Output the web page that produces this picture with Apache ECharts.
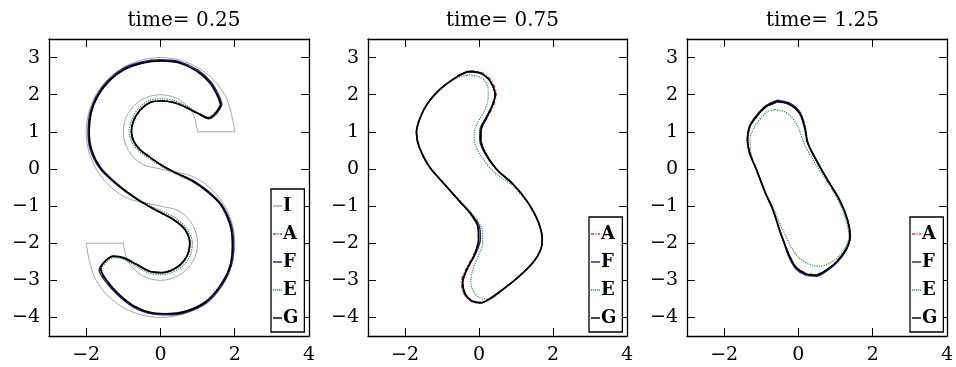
<!DOCTYPE html>
<html>
<head>
<meta charset="utf-8">
<script src="https://cdn.jsdelivr.net/npm/echarts@6/dist/echarts.min.js"></script>
<style>
html, body { margin: 0; padding: 0; background: #fff; }
#chart { width: 956px; height: 367px; }
</style>
</head>
<body>
<div id="chart"></div>
<script>
// panel titles and ticks
const titles = ['time= 0.25', 'time= 0.75', 'time= 1.25'];
const xTicks = [-2, 0, 2, 4];
const yTicks = [-4, -3, -2, -1, 0, 1, 2, 3];

// initial S shape (I), in pieces: caps are straight, arcs are smooth
const iCapTop = [[1, 1], [2, 1]];
const iArcUpper = [[2, 1], [1.732, 2], [1, 2.732], [0, 3], [-1, 2.732], [-1.732, 2], [-2, 1], [-1.732, 0], [-1, -0.732], [0, -1],
	[0.5, -1.134], [0.866, -1.5], [1, -2], [0.866, -2.5], [0.5, -2.866], [0, -3], [-0.5, -2.866], [-0.866, -2.5], [-1, -2]];
const iCapBottom = [[-1, -2], [-2, -2]];
const iArcLower = [[-2, -2], [-1.732, -3], [-1, -3.732], [0, -4], [1, -3.732], [1.732, -3], [2, -2], [1.732, -1], [1, -0.268], [0, 0],
	[-0.5, 0.134], [-0.866, 0.5], [-1, 1], [-0.866, 1.5], [-0.5, 1.866], [0, 2], [0.5, 1.866], [0.866, 1.5], [1, 1]];

// time = 0.25
const g1 = [[1.63,1.73],[1.54,1.97],[1.34,2.31],[0.99,2.63],[0.5,2.86],[0.0,2.91],[-0.5,2.85],[-0.99,2.67],[-1.4,2.35],[-1.7,1.94],[-1.87,1.5],[-1.92,1.0],[-1.86,0.53],[-1.62,0.04],[-1.2,-0.38],[-0.65,-0.8],[-0.1,-1.12],[0.35,-1.36],[0.66,-1.63],[0.79,-1.99],[0.71,-2.35],[0.44,-2.65],[0.04,-2.79],[-0.3,-2.75],[-0.64,-2.57],[-1.0,-2.39],[-1.26,-2.35],[-1.47,-2.47],[-1.61,-2.69],[-1.48,-2.96],[-1.16,-3.34],[-0.72,-3.69],[-0.2,-3.88],[0.2,-3.9],[0.7,-3.83],[1.23,-3.57],[1.62,-3.13],[1.88,-2.6],[1.94,-2.05],[1.88,-1.52],[1.63,-0.97],[1.24,-0.59],[0.85,-0.32],[0.4,-0.1],[0.0,0.12],[-0.3,0.33],[-0.55,0.52],[-0.72,0.75],[-0.78,1.0],[-0.73,1.28],[-0.55,1.58],[-0.28,1.79],[0.05,1.83],[0.35,1.79],[0.62,1.69],[0.9,1.55],[1.1,1.45],[1.29,1.37],[1.45,1.47],[1.57,1.62],[1.63,1.73]];
const e1 = [[1.6,1.74],[1.52,1.97],[1.33,2.3],[0.98,2.62],[0.5,2.85],[0.0,2.9],[-0.5,2.84],[-0.98,2.66],[-1.39,2.34],[-1.69,1.94],[-1.86,1.5],[-1.91,1.0],[-1.85,0.53],[-1.61,0.05],[-1.2,-0.36],[-0.65,-0.77],[-0.08,-1.08],[0.4,-1.32],[0.72,-1.62],[0.86,-1.99],[0.78,-2.38],[0.48,-2.7],[0.04,-2.85],[-0.32,-2.8],[-0.66,-2.62],[-1.0,-2.43],[-1.26,-2.39],[-1.45,-2.5],[-1.58,-2.71],[-1.46,-2.97],[-1.15,-3.33],[-0.72,-3.68],[-0.2,-3.87],[0.2,-3.89],[0.7,-3.82],[1.22,-3.56],[1.61,-3.12],[1.87,-2.6],[1.93,-2.05],[1.87,-1.52],[1.62,-0.98],[1.23,-0.6],[0.85,-0.34],[0.4,-0.13],[0.0,0.08],[-0.33,0.3],[-0.6,0.5],[-0.78,0.75],[-0.84,1.0],[-0.78,1.3],[-0.6,1.62],[-0.3,1.85],[0.05,1.89],[0.38,1.84],[0.66,1.72],[0.93,1.57],[1.12,1.46],[1.3,1.4],[1.45,1.5],[1.55,1.63],[1.6,1.74]];
const f1 = [[1.66,1.74],[1.57,1.99],[1.36,2.34],[1.01,2.66],[0.51,2.89],[0.0,2.94],[-0.51,2.88],[-1.01,2.7],[-1.43,2.37],[-1.73,1.95],[-1.9,1.5],[-1.95,1.0],[-1.89,0.52],[-1.64,0.02],[-1.21,-0.4],[-0.65,-0.81],[-0.1,-1.13],[0.35,-1.37],[0.66,-1.64],[0.79,-2.0],[0.71,-2.36],[0.44,-2.66],[0.04,-2.8],[-0.3,-2.76],[-0.64,-2.58],[-1.0,-2.4],[-1.28,-2.36],[-1.5,-2.49],[-1.65,-2.72],[-1.51,-2.99],[-1.18,-3.37],[-0.73,-3.72],[-0.2,-3.91],[0.2,-3.93],[0.71,-3.86],[1.25,-3.6],[1.65,-3.15],[1.91,-2.6],[1.97,-2.05],[1.91,-1.51],[1.65,-0.96],[1.25,-0.57],[0.86,-0.3],[0.4,-0.1],[0.0,0.12],[-0.3,0.33],[-0.55,0.52],[-0.72,0.75],[-0.78,1.0],[-0.73,1.28],[-0.55,1.58],[-0.28,1.79],[0.05,1.83],[0.35,1.79],[0.62,1.69],[0.9,1.55],[1.1,1.44],[1.3,1.35],[1.48,1.46],[1.6,1.62],[1.66,1.74]];
const a1 = [[1.64,1.72],[1.55,1.97],[1.35,2.32],[1.0,2.64],[0.5,2.87],[0.0,2.92],[-0.5,2.86],[-1.0,2.68],[-1.41,2.36],[-1.71,1.94],[-1.88,1.5],[-1.93,1.0],[-1.87,0.53],[-1.63,0.03],[-1.2,-0.39],[-0.65,-0.8],[-0.1,-1.12],[0.36,-1.36],[0.67,-1.63],[0.8,-1.99],[0.72,-2.35],[0.45,-2.65],[0.04,-2.8],[-0.3,-2.76],[-0.64,-2.57],[-1.0,-2.39],[-1.27,-2.35],[-1.48,-2.48],[-1.63,-2.7],[-1.49,-2.97],[-1.17,-3.35],[-0.72,-3.7],[-0.2,-3.89],[0.2,-3.91],[0.7,-3.84],[1.24,-3.58],[1.63,-3.14],[1.89,-2.6],[1.95,-2.05],[1.89,-1.52],[1.64,-0.96],[1.25,-0.58],[0.85,-0.31],[0.4,-0.1],[0.0,0.12],[-0.3,0.33],[-0.55,0.52],[-0.72,0.75],[-0.79,1.0],[-0.74,1.28],[-0.56,1.58],[-0.28,1.8],[0.05,1.84],[0.36,1.8],[0.63,1.7],[0.9,1.55],[1.1,1.44],[1.32,1.35],[1.49,1.46],[1.59,1.61],[1.64,1.72]];

// time = 0.75
const g2 = [[-0.2,2.62],[0.05,2.57],[0.25,2.43],[0.38,2.22],[0.44,2.0],[0.36,1.7],[0.2,1.37],[0.06,1.07],[0.05,0.8],[0.16,0.45],[0.47,0.0],[0.93,-0.42],[1.32,-0.9],[1.6,-1.42],[1.71,-1.9],[1.67,-2.17],[1.46,-2.52],[1.02,-2.95],[0.57,-3.3],[0.25,-3.52],[0.05,-3.6],[-0.2,-3.55],[-0.38,-3.35],[-0.44,-3.06],[-0.33,-2.72],[-0.12,-2.3],[-0.01,-1.9],[-0.03,-1.55],[-0.22,-1.22],[-0.5,-0.9],[-0.9,-0.45],[-1.35,0.07],[-1.62,0.6],[-1.69,0.98],[-1.6,1.35],[-1.4,1.75],[-1.05,2.15],[-0.6,2.48],[-0.35,2.6],[-0.2,2.62]];
const e2 = [[-0.33,2.53],[-0.05,2.5],[0.15,2.38],[0.25,2.12],[0.24,1.85],[0.14,1.55],[-0.05,1.22],[-0.13,0.95],[-0.11,0.7],[0.05,0.35],[0.4,-0.08],[0.91,-0.45],[1.31,-0.92],[1.59,-1.43],[1.7,-1.9],[1.66,-2.18],[1.45,-2.53],[1.01,-2.96],[0.6,-3.3],[0.3,-3.5],[0.1,-3.5],[-0.13,-3.33],[-0.22,-3.05],[-0.18,-2.75],[-0.02,-2.35],[0.1,-2.0],[0.08,-1.62],[-0.12,-1.28],[-0.45,-0.92],[-0.88,-0.46],[-1.34,0.07],[-1.62,0.6],[-1.7,0.98],[-1.61,1.35],[-1.41,1.75],[-1.06,2.14],[-0.62,2.44],[-0.33,2.53]];
const f2 = [[-0.2,2.63],[0.05,2.58],[0.25,2.44],[0.38,2.22],[0.43,2.0],[0.35,1.7],[0.18,1.37],[0.03,1.07],[0.02,0.8],[0.14,0.45],[0.46,0.0],[0.93,-0.42],[1.32,-0.9],[1.6,-1.42],[1.71,-1.9],[1.67,-2.17],[1.46,-2.52],[1.02,-2.95],[0.57,-3.3],[0.25,-3.53],[0.05,-3.61],[-0.2,-3.56],[-0.39,-3.36],[-0.45,-3.06],[-0.34,-2.72],[-0.1,-2.3],[0.04,-1.88],[0.0,-1.52],[-0.2,-1.22],[-0.5,-0.9],[-0.9,-0.45],[-1.35,0.07],[-1.62,0.6],[-1.69,0.98],[-1.6,1.35],[-1.4,1.75],[-1.05,2.15],[-0.6,2.48],[-0.35,2.61],[-0.2,2.63]];
const a2 = [[-0.2,2.64],[0.06,2.6],[0.27,2.46],[0.41,2.24],[0.47,2.02],[0.39,1.7],[0.22,1.37],[0.07,1.07],[0.06,0.8],[0.17,0.45],[0.47,0.0],[0.93,-0.42],[1.32,-0.9],[1.6,-1.42],[1.71,-1.9],[1.67,-2.17],[1.46,-2.52],[1.02,-2.95],[0.57,-3.3],[0.25,-3.53],[0.05,-3.61],[-0.22,-3.56],[-0.42,-3.35],[-0.48,-3.04],[-0.36,-2.7],[-0.14,-2.3],[-0.02,-1.9],[-0.04,-1.55],[-0.23,-1.22],[-0.5,-0.9],[-0.9,-0.45],[-1.35,0.07],[-1.62,0.6],[-1.69,0.98],[-1.6,1.35],[-1.4,1.75],[-1.05,2.15],[-0.6,2.49],[-0.36,2.62],[-0.2,2.64]];

// time = 1.25
const g3 = [[-0.55,1.82],[-0.24,1.74],[0.03,1.5],[0.16,1.14],[0.25,0.7],[0.47,0.25],[0.78,-0.29],[1.1,-0.82],[1.32,-1.36],[1.39,-1.81],[1.28,-2.17],[1.01,-2.52],[0.65,-2.79],[0.47,-2.86],[0.21,-2.83],[-0.06,-2.66],[-0.24,-2.35],[-0.38,-1.99],[-0.51,-1.63],[-0.69,-1.09],[-0.9,-0.62],[-1.13,-0.02],[-1.31,0.43],[-1.37,0.79],[-1.31,1.14],[-1.13,1.41],[-0.87,1.68],[-0.55,1.82]];
const e3 = [[-0.64,1.6],[-0.4,1.55],[-0.2,1.42],[0.0,1.1],[0.17,0.65],[0.42,0.2],[0.76,-0.32],[1.07,-0.85],[1.28,-1.38],[1.36,-1.82],[1.24,-2.15],[0.98,-2.45],[0.7,-2.6],[0.5,-2.62],[0.25,-2.55],[0.0,-2.38],[-0.2,-2.1],[-0.35,-1.78],[-0.49,-1.5],[-0.68,-1.05],[-0.9,-0.6],[-1.12,-0.05],[-1.28,0.43],[-1.3,0.8],[-1.2,1.1],[-1.0,1.38],[-0.82,1.55],[-0.64,1.6]];
const f3 = [[-0.56,1.85],[-0.23,1.77],[0.05,1.52],[0.18,1.14],[0.26,0.7],[0.48,0.25],[0.78,-0.29],[1.1,-0.82],[1.32,-1.36],[1.4,-1.81],[1.29,-2.18],[1.02,-2.54],[0.66,-2.82],[0.5,-2.89],[0.2,-2.86],[-0.08,-2.68],[-0.26,-2.36],[-0.39,-1.99],[-0.52,-1.63],[-0.69,-1.09],[-0.9,-0.62],[-1.13,-0.02],[-1.32,0.43],[-1.38,0.79],[-1.32,1.15],[-1.14,1.43],[-0.88,1.7],[-0.56,1.85]];
const a3 = [[-0.55,1.8],[-0.25,1.73],[0.04,1.49],[0.17,1.13],[0.25,0.7],[0.47,0.25],[0.78,-0.29],[1.1,-0.82],[1.32,-1.36],[1.39,-1.81],[1.28,-2.17],[1.01,-2.51],[0.66,-2.78],[0.48,-2.84],[0.22,-2.81],[-0.05,-2.64],[-0.23,-2.34],[-0.38,-1.99],[-0.51,-1.63],[-0.69,-1.09],[-0.9,-0.62],[-1.13,-0.02],[-1.31,0.43],[-1.36,0.79],[-1.3,1.14],[-1.12,1.41],[-0.86,1.67],[-0.55,1.8]];

const panelCurves = [
	{ A: a1, F: f1, E: e1, G: g1 },
	{ A: a2, F: f2, E: e2, G: g2 },
	{ A: a3, F: f3, E: e3, G: g3 }
];

const chart = echarts.init(document.getElementById('chart'));

const serif = 'DejaVu Serif';
const grids = [
	{ left: 49, top: 39, width: 260, height: 297 },
	{ left: 368, top: 39, width: 259, height: 297 },
	{ left: 687, top: 39, width: 261, height: 297 }
];
const legendPos = [
	{ left: 271, top: 189 },
	{ left: 589, top: 217 },
	{ left: 910, top: 217 }
];

const styles = {
	I: { color: '#a6a6a6', width: 1, type: 'solid' },
	A: { color: '#d33a3a', width: 1.2, type: [4, 2, 1, 2] },
	F: { color: '#23239a', width: 1.4, type: 'solid' },
	E: { color: '#2f8f3a', width: 1.2, type: [1.2, 1.2] },
	G: { color: '#000000', width: 1.7, type: 'solid' }
};

// legend samples drawn as short line pieces
const legendIcons = {
	I: 'path://M0,0H10V1.6H0Z',
	A: 'path://M0,0H3.6V1.6H0Z M5,0H6.4V1.6H5Z M7.8,0H10V1.6H7.8Z',
	F: 'path://M0,0H10V1.6H0Z',
	E: 'path://M0,0H1.3V1.6H0Z M2.2,0H3.5V1.6H2.2Z M4.4,0H5.7V1.6H4.4Z M6.6,0H7.9V1.6H6.6Z M8.8,0H10V1.6H8.8Z',
	G: 'path://M0,0H10V1.6H0Z'
};

function minus(v) {
	return String(v).replace('-', '\u2212');
}

const axisLine = { show: true, onZero: false, lineStyle: { color: '#000', width: 1.3 } };
const tickStyle = { color: '#000', width: 1 };

const xAxis = [];
const yAxis = [];
grids.forEach(function (g, i) {
	xAxis.push({
		gridIndex: i, type: 'value', min: -3, max: 4, position: 'bottom',
		axisLine: axisLine,
		axisTick: { inside: true, length: 8, lineStyle: tickStyle, customValues: xTicks },
		axisLabel: { customValues: xTicks, formatter: minus, color: '#000', fontFamily: serif, fontSize: 19, margin: 10 },
		splitLine: { show: false }
	});
	xAxis.push({
		gridIndex: i, type: 'value', min: -3, max: 4, position: 'top',
		axisLine: axisLine,
		axisTick: { inside: true, length: 8, lineStyle: tickStyle, customValues: xTicks },
		axisLabel: { show: false },
		splitLine: { show: false }
	});
	yAxis.push({
		gridIndex: i, type: 'value', min: -4.5, max: 3.5, position: 'left',
		axisLine: axisLine,
		axisTick: { inside: true, length: 8, lineStyle: tickStyle, customValues: yTicks },
		axisLabel: { customValues: yTicks, formatter: minus, color: '#000', fontFamily: serif, fontSize: 19, margin: 9 },
		splitLine: { show: false }
	});
	yAxis.push({
		gridIndex: i, type: 'value', min: -4.5, max: 3.5, position: 'right',
		axisLine: axisLine,
		axisTick: { inside: true, length: 8, lineStyle: tickStyle, customValues: yTicks },
		axisLabel: { show: false },
		splitLine: { show: false }
	});
});

function lineSeries(name, data, panel, smooth) {
	return {
		name: name,
		type: 'line',
		xAxisIndex: panel * 2,
		yAxisIndex: panel * 2,
		data: data,
		symbol: 'none',
		smooth: smooth,
		lineStyle: styles[name],
		itemStyle: { color: styles[name].color },
		silent: true
	};
}

const series = [
	lineSeries('I', iCapTop, 0, false),
	lineSeries('I', iArcUpper, 0, 0.35),
	lineSeries('I', iCapBottom, 0, false),
	lineSeries('I', iArcLower, 0, 0.35)
];
panelCurves.forEach(function (c, p) {
	['A', 'F', 'E', 'G'].forEach(function (k) {
		series.push(lineSeries(k, c[k], p, 0.3));
	});
});

const legend = legendPos.map(function (pos, i) {
	const names = i === 0 ? ['I', 'A', 'F', 'E', 'G'] : ['A', 'F', 'E', 'G'];
	return {
		data: names.map(function (n) {
			return {
				name: n,
				icon: legendIcons[n],
				itemStyle: { color: styles[n].color, borderWidth: 0, borderType: 'solid', opacity: 1 },
				lineStyle: { width: 0, type: 'solid' }
			};
		}),
		left: pos.left,
		top: pos.top,
		orient: 'vertical',
		selectedMode: false,
		backgroundColor: '#fff',
		borderColor: '#000',
		borderWidth: 1.3,
		borderRadius: 0,
		padding: [8, 6, 5, 2],
		itemGap: 10,
		itemWidth: 9,
		itemHeight: 10,
		itemStyle: { borderWidth: 0, borderType: 'solid' },
		textStyle: { color: '#000', fontFamily: serif, fontWeight: 'bold', fontSize: 18, padding: [0, 0, 0, -4] }
	};
});

const option = {
	animation: false,
	backgroundColor: '#fff',
	title: titles.map(function (t, i) {
		return {
			text: t,
			left: grids[i].left + grids[i].width / 2,
			top: 6,
			textAlign: 'center',
			textStyle: { color: '#000', fontFamily: serif, fontWeight: 'normal', fontSize: 20 }
		};
	}),
	legend: legend,
	grid: grids,
	xAxis: xAxis,
	yAxis: yAxis,
	series: series
};
chart.setOption(option);
</script>
</body>
</html>
